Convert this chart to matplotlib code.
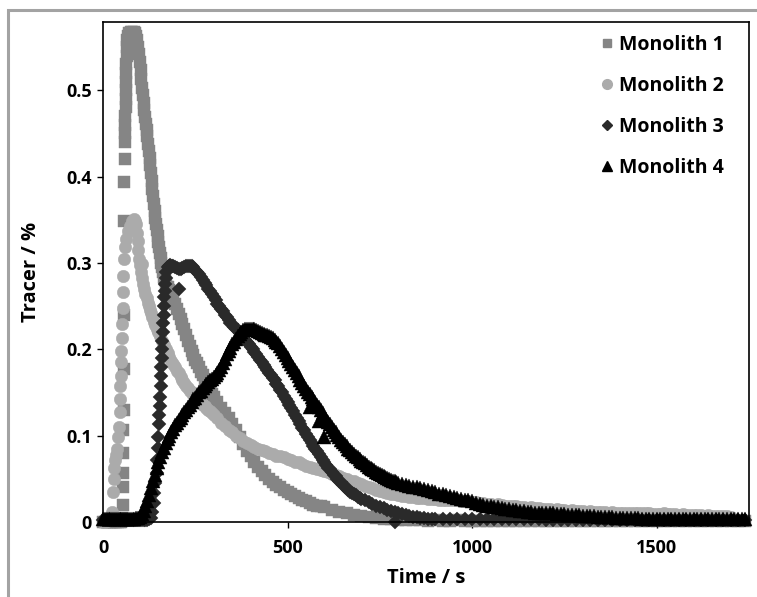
import matplotlib
matplotlib.use("Agg")
import matplotlib.pyplot as plt
from matplotlib.patches import Rectangle
from matplotlib.lines import Line2D

# ---------------- data (time in s, tracer in %) ----------------
# regular segments: (start time, step, values)
m1_base = (0, 5, [0, 0, 0, 0, 0, 0, 0, 0, 0, 0, 0])
m1_rise = [(52, 0.005), (53, 0.02), (54, 0.04), (54.5, 0.057), (55, 0.08), (55.5, 0.107),
           (56, 0.13), (56.5, 0.177), (57, 0.24), (57.5, 0.348), (58, 0.394), (58.5, 0.42),
           (59, 0.44), (59.5, 0.45), (60, 0.46), (60.5, 0.47), (61, 0.48), (61.5, 0.49),
           (62, 0.50), (62.5, 0.51), (63, 0.52), (63.5, 0.53), (64, 0.54), (65, 0.55),
           (66, 0.558), (68, 0.563), (71, 0.566), (75, 0.567), (79, 0.567), (83, 0.567),
           (87, 0.566), (90, 0.563), (93, 0.558)]
m1_fall_a = (96, 2, [0.55, 0.542, 0.533, 0.523, 0.513, 0.503, 0.494, 0.485, 0.477, 0.469,
                     0.461, 0.454, 0.447, 0.438, 0.43, 0.422, 0.413, 0.404, 0.395, 0.386,
                     0.377, 0.368, 0.36, 0.352, 0.345, 0.338, 0.331, 0.324, 0.318, 0.312,
                     0.306, 0.300, 0.295])
m1_fall_b = (163, 3, [0.289, 0.284, 0.28, 0.276, 0.272, 0.269, 0.266, 0.263, 0.26, 0.257])
m1_fall_c = (195, 5, [0.252, 0.247, 0.241, 0.235, 0.229, 0.223, 0.217, 0.21, 0.204, 0.198,
                      0.193, 0.188, 0.184, 0.179, 0.174, 0.17, 0.165, 0.161, 0.156, 0.152,
                      0.148, 0.145])
m1_tail_a = (310, 10, [0.139, 0.132, 0.126, 0.12, 0.113, 0.106, 0.098, 0.09, 0.082, 0.076,
                       0.07, 0.064, 0.059, 0.054, 0.05, 0.046, 0.043, 0.04, 0.037, 0.035,
                       0.032, 0.03, 0.028, 0.026, 0.024, 0.022, 0.02, 0.019, 0.018, 0.017])
m1_tail_b = (620, 20, [0.014, 0.012, 0.01, 0.008, 0.007, 0.006, 0.005, 0.004, 0.003, 0.002,
                       0.002, 0.002, 0.002, 0.001, 0.002, 0.001, 0.001, 0.002, 0.001, 0.001,
                       0.001, 0.001, 0.001, 0.001, 0.001, 0.001, 0.001, 0.001, 0.001, 0.001,
                       0.001, 0.001, 0.001, 0.001, 0.001, 0.001, 0.001, 0.001, 0.001, 0.001,
                       0.001, 0.001, 0.001, 0.001, 0.001, 0.001, 0.001, 0.001, 0.001, 0.001,
                       0.001, 0.001, 0.001, 0.001, 0.001, 0.001, 0.001])

m2_rise = [(0, 0), (5, 0), (10, 0.001), (15, 0.002), (20, 0.004), (24, 0.012),
           (27, 0.035), (29, 0.05), (31, 0.063), (33, 0.072), (35, 0.078), (37, 0.084),
           (40, 0.099), (43, 0.11), (45, 0.127), (46, 0.142), (47, 0.157), (48, 0.169),
           (49, 0.185), (50, 0.198), (51, 0.213), (52, 0.229), (53, 0.248), (54, 0.266),
           (55, 0.285), (57, 0.305), (60, 0.318), (63, 0.328), (67, 0.337), (72, 0.343),
           (78, 0.348), (84, 0.351), (88, 0.349), (90, 0.345), (92, 0.335), (94, 0.325),
           (96, 0.315), (98, 0.305), (100, 0.298), (103, 0.29), (105, 0.299), (106, 0.282),
           (109, 0.276), (112, 0.27), (115, 0.264), (118, 0.259), (121, 0.254), (124, 0.25),
           (127, 0.246), (130, 0.242), (134, 0.237), (138, 0.232), (142, 0.228), (146, 0.224)]
m2_fall = (150, 5, [0.22, 0.215, 0.21, 0.205, 0.2, 0.196, 0.191, 0.187, 0.183, 0.179,
                    0.175, 0.172, 0.168, 0.164, 0.161, 0.158, 0.155, 0.152, 0.15, 0.147,
                    0.145, 0.143, 0.141, 0.138, 0.136, 0.134, 0.132, 0.13, 0.128, 0.126,
                    0.124])
m2_tail_a = (310, 10, [0.12, 0.115, 0.111, 0.107, 0.104, 0.1, 0.097, 0.094, 0.091, 0.089,
                       0.087, 0.085, 0.083, 0.082, 0.08, 0.079, 0.077, 0.076, 0.075, 0.073,
                       0.072, 0.07, 0.069, 0.067, 0.065, 0.064, 0.062, 0.061, 0.06, 0.059,
                       0.058, 0.056, 0.055, 0.053, 0.051, 0.05, 0.048, 0.047, 0.045, 0.044,
                       0.042, 0.041, 0.039, 0.037, 0.036, 0.035, 0.034, 0.033, 0.032, 0.031,
                       0.03, 0.03, 0.029, 0.029, 0.028, 0.028, 0.028, 0.027, 0.027, 0.027,
                       0.026, 0.026, 0.026, 0.025, 0.025, 0.025, 0.024, 0.024, 0.024, 0.023])
m2_tail_b = (1010, 10, [0.023, 0.022, 0.022, 0.021, 0.021, 0.020, 0.021, 0.020, 0.019, 0.019,
                        0.018, 0.018, 0.017, 0.017, 0.016, 0.017, 0.016, 0.016, 0.015, 0.015,
                        0.015, 0.014, 0.015, 0.014, 0.014, 0.013, 0.014, 0.013, 0.013, 0.013,
                        0.012, 0.013, 0.012, 0.012, 0.012, 0.012, 0.011, 0.012, 0.011, 0.011,
                        0.011, 0.010, 0.011, 0.010, 0.010, 0.010, 0.011, 0.010, 0.009, 0.009,
                        0.009, 0.010, 0.009, 0.009, 0.009, 0.008, 0.009, 0.008, 0.008, 0.008,
                        0.008, 0.008, 0.007, 0.008, 0.007, 0.007, 0.007, 0.007, 0.007, 0.006])

m3_base = (0, 5, [0.002, 0.002, 0.002, 0.002, 0.002, 0.002, 0.002, 0.002, 0.002, 0.002,
                  0.002, 0.002, 0.002, 0.002, 0.002, 0.002, 0.002, 0.002, 0.002, 0.002,
                  0.002, 0.002, 0.002, 0.002, 0.002, 0.003])
m3_rise = [(130, 0.005), (134, 0.012), (137, 0.022), (139, 0.034), (142, 0.045), (145, 0.057),
           (147, 0.072), (148, 0.086), (150, 0.099), (151, 0.113), (153, 0.124), (154, 0.134),
           (155, 0.145), (156, 0.157), (157, 0.169), (158, 0.18), (159, 0.19), (160, 0.2),
           (161, 0.21), (162, 0.22), (163, 0.23), (164, 0.24), (165, 0.25), (166, 0.26),
           (167, 0.268), (168, 0.276), (170, 0.283), (172, 0.29), (175, 0.295), (178, 0.297),
           (182, 0.298), (186, 0.297), (190, 0.296), (195, 0.295), (200, 0.294), (205, 0.293),
           (206, 0.27), (210, 0.293), (215, 0.294), (220, 0.295), (225, 0.296), (230, 0.297),
           (235, 0.297)]
m3_fall = (240, 5, [0.297, 0.295, 0.292, 0.29, 0.287, 0.284, 0.28, 0.277, 0.274, 0.27,
                    0.267, 0.264, 0.26, 0.257, 0.253, 0.25, 0.247, 0.244, 0.24, 0.237,
                    0.234, 0.231, 0.229, 0.226, 0.224, 0.222, 0.219, 0.216, 0.214, 0.211,
                    0.209, 0.206, 0.203, 0.2, 0.197, 0.194, 0.191, 0.188, 0.185, 0.182,
                    0.179, 0.176, 0.173, 0.17, 0.167, 0.164, 0.16, 0.157, 0.153, 0.15,
                    0.146, 0.143, 0.139, 0.135, 0.132, 0.128, 0.124, 0.121, 0.117, 0.113,
                    0.109, 0.106, 0.102, 0.098, 0.095, 0.091, 0.088, 0.085, 0.082, 0.079,
                    0.075, 0.072, 0.069, 0.066, 0.063, 0.061, 0.058, 0.055, 0.053, 0.05,
                    0.048, 0.046, 0.043, 0.041, 0.039, 0.037, 0.035, 0.034, 0.032, 0.031,
                    0.029, 0.028, 0.027])
m3_tail_a = (710, 10, [0.025, 0.023, 0.021, 0.019, 0.017, 0.016, 0.014, 0.013, 0.012, 0.01,
                       0.009, 0.008, 0.007, 0.006, 0.006, 0.005, 0.005, 0.004, 0.004, 0.004])
m3_tail_b = (920, 20, [0.003, 0.003, 0.003, 0.003, 0.003, 0.003, 0.003, 0.003, 0.003, 0.003,
                       0.003, 0.003, 0.003, 0.003, 0.002, 0.002, 0.002, 0.002, 0.002, 0.002,
                       0.002, 0.002, 0.002, 0.002, 0.002, 0.002, 0.002, 0.002, 0.002, 0.002,
                       0.002, 0.002, 0.002, 0.002, 0.002, 0.002, 0.002, 0.002, 0.002, 0.002,
                       0.002, 0.002])
m3_extra = [(790, 0.0)]

m4_base = (0, 5, [0.004, 0.004, 0.004, 0.004, 0.004, 0.004, 0.004, 0.004, 0.004, 0.004,
                  0.004, 0.004, 0.004, 0.004, 0.004, 0.004, 0.004, 0.004, 0.005, 0.005])
m4_main = (100, 5, [0.006, 0.009, 0.013, 0.018, 0.024, 0.031, 0.039, 0.047, 0.055, 0.062,
                    0.069, 0.075, 0.081, 0.086, 0.091, 0.096, 0.1, 0.104, 0.108, 0.112,
                    0.115, 0.118, 0.121, 0.124, 0.127, 0.13, 0.133, 0.136, 0.139, 0.142,
                    0.144, 0.147, 0.15, 0.152, 0.155, 0.158, 0.16, 0.162, 0.164, 0.166,
                    0.168, 0.17, 0.173, 0.176, 0.18, 0.184, 0.189, 0.194, 0.198, 0.202,
                    0.206, 0.209, 0.212, 0.215, 0.218, 0.22, 0.222, 0.223, 0.224, 0.224,
                    0.224, 0.223, 0.223, 0.222, 0.221, 0.22, 0.219, 0.218, 0.217, 0.216,
                    0.215, 0.214, 0.213, 0.211, 0.209, 0.207, 0.204, 0.2, 0.197, 0.193,
                    0.19, 0.186, 0.183, 0.18, 0.176, 0.173, 0.169, 0.165, 0.161, 0.157,
                    0.154, 0.151, 0.148, 0.145, 0.142, 0.139, 0.136, 0.133, 0.13, 0.126,
                    0.122, 0.119, 0.116, 0.113, 0.11, 0.107, 0.104, 0.101, 0.098, 0.095,
                    0.093, 0.09, 0.088, 0.085, 0.083, 0.081, 0.079, 0.077, 0.075, 0.073,
                    0.071, 0.069, 0.068, 0.066, 0.064, 0.063, 0.061, 0.06, 0.058, 0.057,
                    0.056, 0.054, 0.053, 0.052, 0.051, 0.05, 0.049, 0.048, 0.047, 0.046])
m4_tail_a = (800, 10, [0.045, 0.044, 0.043, 0.042, 0.041, 0.04, 0.039, 0.038, 0.037, 0.036,
                       0.035, 0.033, 0.032, 0.031, 0.03, 0.029, 0.028, 0.027, 0.026, 0.025,
                       0.024])
m4_tail_b = (1010, 10, [0.022, 0.021, 0.02, 0.019, 0.018, 0.017, 0.017, 0.016, 0.015, 0.015,
                        0.014, 0.014, 0.013, 0.013, 0.012, 0.012, 0.011, 0.011, 0.011, 0.01,
                        0.01, 0.01, 0.009, 0.009, 0.009, 0.008, 0.008, 0.008, 0.008, 0.007,
                        0.007, 0.007, 0.007, 0.006, 0.006, 0.006, 0.006, 0.006, 0.005, 0.005,
                        0.005, 0.005, 0.005, 0.005, 0.005, 0.004, 0.004, 0.004, 0.004, 0.004,
                        0.004, 0.004, 0.004, 0.004, 0.003, 0.003, 0.003, 0.003, 0.003, 0.003,
                        0.003, 0.003, 0.003, 0.003, 0.003, 0.003, 0.003, 0.003, 0.003, 0.003,
                        0.003, 0.003, 0.003, 0.003])
m4_extra = [(560, 0.133), (585, 0.117), (598, 0.098)]

series_names = ["Monolith 1", "Monolith 2", "Monolith 3", "Monolith 4"]
x_ticks = [0, 500, 1000, 1500]
y_ticks = [0, 0.1, 0.2, 0.3, 0.4, 0.5]
y_tick_labels = ["0", "0.1", "0.2", "0.3", "0.4", "0.5"]


def build(*parts):
    t, v = [], []
    for p in parts:
        if isinstance(p, tuple):
            start, step, vals = p
            t += [start + step * i for i in range(len(vals))]
            v += list(vals)
        else:
            t += [a for a, b in p]
            v += [b for a, b in p]
    return t, v


m1_t, m1_v = build(m1_base, m1_rise, m1_fall_a, m1_fall_b, m1_fall_c, m1_tail_a, m1_tail_b)
m2_t, m2_v = build(m2_rise, m2_fall, m2_tail_a, m2_tail_b)
m3_t, m3_v = build(m3_base, m3_rise, m3_fall, m3_tail_a, m3_tail_b, m3_extra)
m4_t, m4_v = build(m4_base, m4_main, m4_extra, m4_tail_a, m4_tail_b)

# ---------------- figure ----------------
plt.rcParams['font.family'] = ['Open Sans', 'DejaVu Sans']
plt.rcParams['font.weight'] = 'bold'

W, H = 757, 597
fig = plt.figure(figsize=(W / 100, H / 100), dpi=100)
ax = fig.add_axes([103 / W, (H - 522) / H, (749 - 103) / W, (522 - 22) / H])

styles = [
    dict(marker='s', ms=8.0, color='#858585', lms=6.0),
    dict(marker='o', ms=9.0, color='#ababab', lms=7.0),
    dict(marker='D', ms=6.8, color='#2a2a2a', lms=5.0),
    dict(marker='^', ms=9.6, color='#000000', lms=7.0),
]
data = [(m1_t, m1_v), (m2_t, m2_v), (m3_t, m3_v), (m4_t, m4_v)]
for (t, v), st, name in zip(data, styles, series_names):
    ax.plot(t, v, linestyle='none', marker=st['marker'], ms=st['ms'],
            mfc=st['color'], mec=st['color'], mew=0.3, clip_on=False, label=name)

ax.set_xlim(0, 1750)
ax.set_ylim(0, 0.579)
ax.set_xticks(x_ticks)
ax.set_xticklabels([str(x) for x in x_ticks])
ax.set_yticks(y_ticks)
ax.set_yticklabels(y_tick_labels)
ax.tick_params(direction='out', length=4, width=1.0, labelsize=13, color='black')
ax.tick_params(axis='x', pad=8)
ax.tick_params(axis='y', pad=4)
for lab in ax.get_xticklabels() + ax.get_yticklabels():
    lab.set_fontweight('bold')
for sp in ax.spines.values():
    sp.set_linewidth(1.2)
    sp.set_color('black')

ax.set_xlabel('Time / s', fontsize=14.5, fontweight='bold', labelpad=8)
ax.set_ylabel('Tracer / %', fontsize=14.5, fontweight='bold', labelpad=18)

handles = [Line2D([], [], linestyle='none', marker=st['marker'], ms=st['lms'],
                  mfc=st['color'], mec=st['color']) for st in styles]
leg = ax.legend(handles, series_names, loc='upper left',
                bbox_to_anchor=(598 / W, 1 - 35 / H), bbox_transform=fig.transFigure,
                frameon=False, fontsize=14, handlelength=0.9, handletextpad=0.2,
                labelspacing=1.08, borderpad=0, borderaxespad=0)
for txt in leg.get_texts():
    txt.set_fontweight('bold')

# outer grey frame
fig.add_artist(Rectangle((8 / W, -0.1), 2.0, (H - 10) / H + 0.1, transform=fig.transFigure,
                         fill=False, ec='#a3a3a3', lw=2.2))

fig.savefig('out.png', dpi=100)
